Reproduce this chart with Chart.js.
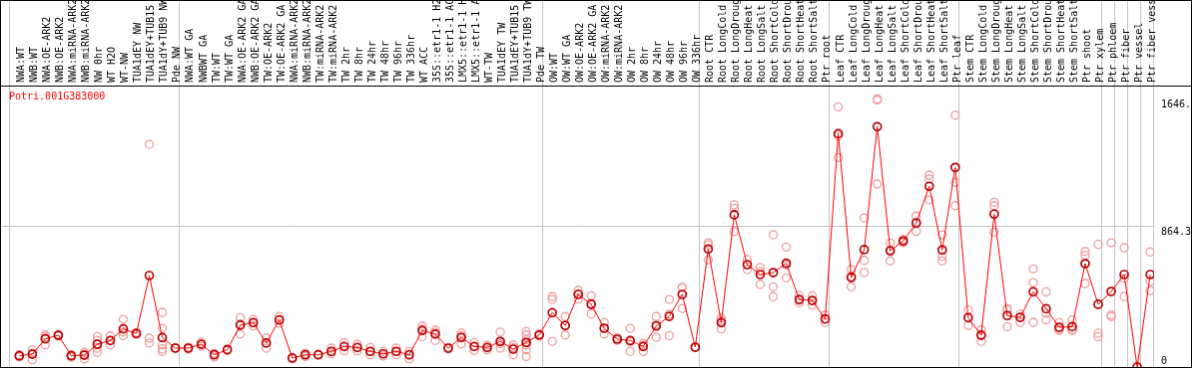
<!DOCTYPE html>
<html>
<head>
<meta charset="utf-8">
<script src="https://cdn.jsdelivr.net/npm/chart.js@4.4.1/dist/chart.umd.min.js"></script>
<style>
  body { margin: 0; background: #fff; }
  #expr { display: block; border: 1px solid #000; }
</style>
</head>
<body>
<canvas id="expr" width="1192" height="368"></canvas>
<script>
const geneName = 'Potri.001G383000';

const categories = [
    'NWA:WT', 'NWB:WT', 'NWA:OE-ARK2', 'NWB:OE-ARK2', 'NWA:miRNA-ARK2', 'NWB:miRNA-ARK2',
    'NW 0hr', 'WT H2O', 'WT-NW', 'TUA1dEY NW', 'TUA1dEY+TUB15 NW', 'TUA1dY+TUB9 NW', 'Pde NW',
    'NWA:WT GA', 'NWBWT GA', 'TW:WT', 'TW:WT GA', 'NWA:OE-ARK2 GA', 'NWB:OE-ARK2 GA',
    'TW:OE-ARK2', 'TW:OE-ARK2 GA', 'NWA:miRNA-ARK2', 'NWB:miRNA-ARK2', 'TW:miRNA-ARK2', 'TW:miRNA-ARK2 GA',
    'TW 2hr', 'TW 8hr', 'TW 24hr', 'TW 48hr', 'TW 96hr', 'TW 336hr', 'WT ACC',
    '35S::etr1-1 H2O', '35S::etr1-1 ACC', 'LMX5::etr1-1 H2O', 'LMX5::etr1-1 ACC', 'WT-TW',
    'TUA1dEY TW', 'TUA1dEY+TUB15 TW', 'TUA1dY+TUB9 TW', 'Pde TW',
    'OW:WT', 'OW:WT GA', 'OW:OE-ARK2', 'OW:OE-ARK2 GA', 'OW:miRNA-ARK2', 'OW:miRNA-ARK2 GA',
    'OW 2hr', 'OW 8hr', 'OW 24hr', 'OW 48hr', 'OW 96hr', 'OW 336hr',
    'Root CTR', 'Root LongCold', 'Root LongDrought', 'Root LongHeat', 'Root LongSalt',
    'Root ShortCold', 'Root ShortDrought', 'Root ShortHeat', 'Root ShortSalt', 'Ptr root',
    'Leaf CTR', 'Leaf LongCold', 'Leaf LongDrought', 'Leaf LongHeat', 'Leaf LongSalt',
    'Leaf ShortCold', 'Leaf ShortDrought', 'Leaf ShortHeat', 'Leaf ShortSalt', 'Ptr leaf',
    'Stem CTR', 'Stem LongCold', 'Stem LongDrought', 'Stem LongHeat', 'Stem LongSalt',
    'Stem ShortCold', 'Stem ShortDrought', 'Stem ShortHeat', 'Stem ShortSalt', 'Ptr shoot', 'Ptr xylem',
    'Ptr phloem', 'Ptr fiber', 'Ptr vessel', 'Ptr fiber vessel'
];

// index of the first category of each group (last entry closes the final group)
const groupStarts = [0, 13, 41, 53, 63, 73, 84, 85, 86, 87, 88];

const meanValues = [
    69, 79, 173, 195, 69, 73, 140, 163, 234, 206, 562, 181, 116,
    116, 140, 75, 106, 257, 273, 147, 289, 55, 75, 75, 96,
    126, 120, 96, 81, 96, 75, 224, 202, 116, 181, 126, 120, 157, 110, 151, 197,
    334, 255, 446, 385, 238, 171, 163, 126, 252, 311, 446, 122,
    725, 273, 935, 629, 568, 580, 637, 415, 409, 295,
    1433, 550, 721, 1476, 713, 774, 884, 1110, 719, 1226,
    303, 195, 939, 316, 305, 462, 358, 244, 248, 635, 385,
    464, 568, 0, 568
];

const replicateValues = [
    [75, 62, 70], [106, 45, 85], [197, 185, 136], [200, 190], [75, 60], [90, 51, 78],
    [187, 163, 116, 90], [191, 163, 136], [293, 193, 216], [212, 200], [1368, 177, 147],
    [336, 238, 136, 112, 96], [116, 120],
    [122, 110], [153, 128], [85, 62], [110, 102], [303, 203, 265], [293, 253],
    [177, 116], [310, 268], [51, 60], [85, 65], [75, 78], [116, 80],
    [151, 100], [140, 100], [120, 75], [96, 68], [116, 75], [96, 51], [252, 187, 232],
    [228, 163, 214], [120, 112], [208, 142, 193], [151, 102], [106, 134],
    [214, 116, 142], [136, 75, 120], [218, 197, 167, 136, 106, 65], [203, 191],
    [432, 415, 157], [310, 197, 258], [472, 417, 450], [438, 326, 390], [273, 203], [180, 163],
    [238, 96, 155], [147, 96, 135], [310, 183, 262], [415, 193, 324], [487, 360, 490], [122],
    [763, 750, 658], [300, 234, 285], [996, 975, 833], [660, 599, 628], [611, 507, 586],
    [812, 493, 432], [737, 548, 626], [440, 395, 410], [437, 380], [319, 273],
    [1598, 1419, 1287], [599, 493, 560], [916, 655, 580], [1646, 1640, 1124], [763, 652, 720],
    [785, 765], [927, 833, 890], [1179, 1155, 1026], [812, 680, 652], [1547, 1134, 991],
    [350, 255, 305], [230, 157, 200], [1012, 991, 829], [360, 350, 248], [324, 305, 273],
    [603, 519, 275], [462, 289, 330], [273, 230, 224], [289, 224, 230], [710, 686, 513], [753, 208, 187],
    [763, 320, 310], [733, 544, 432], [0], [707, 527, 470]
];

const yMax = 1728.6;
const yTickValues = [0, 864.3, 1646];
const yTickLabels = ['0', '864.3', '1646.'];

const xMin = -1.406;
const xMax = 87.3;
const gridGray = '#c4c4c4';
const monoFont = { family: 'DejaVu Sans Mono', size: 10 };

const meanPoints = meanValues.map((v, i) => ({ x: i, y: v }));
const repPoints = replicateValues.flatMap((list, i) => list.map(v => ({ x: i, y: v })));

// rotated labels are drawn well left of their tick, so push the label ticks right
const nLabels = categories.length;
const topTicks = categories.map((_, i) => ({ value: i + 1.1 }))
    .concat(groupStarts.map(g => ({ value: Math.min(g - 0.72, xMax) })));

const geneLabel = {
    id: 'geneLabel',
    afterDraw(chart) {
        const { ctx, chartArea } = chart;
        ctx.save();
        ctx.fillStyle = '#ff0000';
        ctx.font = '10px "DejaVu Sans Mono"';
        ctx.textBaseline = 'middle';
        ctx.fillText(geneName, chartArea.left + 8, chartArea.top + 11);
        ctx.restore();
    }
};

new Chart(document.getElementById('expr'), {
    data: {
        datasets: [
            {
                type: 'line',
                label: 'mean',
                data: meanPoints,
                xAxisID: 'x',
                yAxisID: 'y',
                borderColor: '#ff0000',
                borderWidth: 1,
                tension: 0,
                pointRadius: 4,
                pointBorderWidth: 1.7,
                pointBorderColor: '#b80000',
                pointBackgroundColor: 'rgba(255,255,255,0)'
            },
            {
                type: 'scatter',
                label: 'replicates',
                data: repPoints,
                xAxisID: 'x',
                yAxisID: 'y',
                pointRadius: 4,
                pointBorderWidth: 1.3,
                pointBorderColor: '#ef9c9c',
                pointBackgroundColor: 'rgba(255,255,255,0)'
            }
        ]
    },
    options: {
        responsive: false,
        animation: false,
        layout: { padding: 0, autoPadding: false },
        plugins: {
            legend: { display: false },
            tooltip: { enabled: false }
        },
        scales: {
            x: {
                type: 'linear',
                display: false,
                min: xMin,
                max: xMax
            },
            xl: {
                type: 'linear',
                position: 'top',
                min: xMin,
                max: xMax,
                afterBuildTicks: axis => { axis.ticks = topTicks.map(t => ({ value: t.value })); },
                afterFit: axis => {
                    axis.height = 85;
                    axis.paddingLeft = 0;
                    axis.paddingRight = 0;
                },
                border: { display: false },
                grid: {
                    color: c => (c.index >= nLabels ? gridGray : 'rgba(0,0,0,0)'),
                    tickColor: c => (c.index >= nLabels ? gridGray : 'rgba(0,0,0,0)'),
                    drawTicks: true,
                    tickLength: 85
                },
                ticks: {
                    autoSkip: false,
                    minRotation: 90,
                    maxRotation: 90,
                    padding: -82,
                    color: '#000',
                    font: monoFont,
                    callback: (value, index) => (index < nLabels ? categories[index] : '')
                }
            },
            y: {
                type: 'linear',
                position: 'right',
                min: 0,
                max: yMax,
                afterBuildTicks: axis => {
                    axis.ticks = yTickValues.concat([yMax]).map(v => ({ value: v }));
                },
                afterFit: axis => {
                    axis.width = 37;
                    axis.paddingTop = 0;
                    axis.paddingBottom = 0;
                },
                border: { display: false },
                grid: {
                    color: c => {
                        if (c.tick.value === yMax) return '#000';
                        if (c.tick.value === 864.3) return gridGray;
                        return 'rgba(0,0,0,0)';
                    },
                    tickColor: c => (c.tick.value === yMax ? '#000' : 'rgba(0,0,0,0)'),
                    drawTicks: true,
                    tickLength: 37
                },
                ticks: {
                    padding: -30,
                    color: '#000',
                    font: monoFont,
                    callback: (value, index) => {
                        if (index >= yTickLabels.length) return '';
                        return index === 0 ? [yTickLabels[index], ''] : ['', yTickLabels[index]];
                    }
                }
            }
        }
    },
    plugins: [geneLabel]
});
</script>
</body>
</html>
